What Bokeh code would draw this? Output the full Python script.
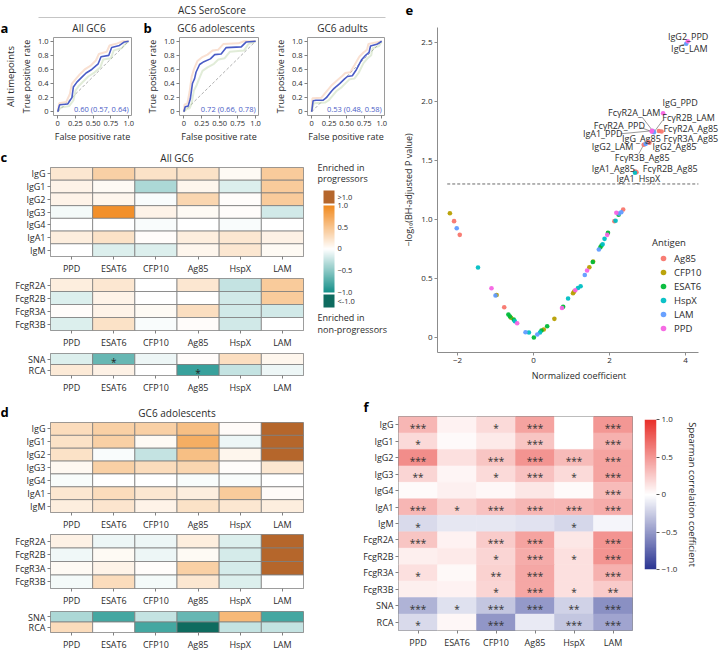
import numpy as np
from bokeh.plotting import figure
from bokeh.layouts import row, column
from bokeh.models import (Range1d, FactorRange, FixedTicker, LinearAxis,
                          ColumnDataSource, LinearColorMapper, Legend, LegendItem)
from bokeh.transform import transform
from bokeh.embed import file_html
from bokeh.resources import INLINE
from bokeh.core.properties import value

FONT = "Open Sans"
TXT = "#2b2b2b"
BLUE = "#4a5cc6"

# ---------------- data ----------------
ANTIGENS = ["PPD", "ESAT6", "CFP10", "Ag85", "HspX", "LAM"]
ROWS_IG = ["IgG", "IgG1", "IgG2", "IgG3", "IgG4", "IgA1", "IgM"]
ROWS_FC = ["FcgR2A", "FcgR2B", "FcgR3A", "FcgR3B"]
ROWS_LEC = ["SNA", "RCA"]

# ROC curves (ACS SeroScore)
A_FPR = [0, 0.02, 0.03, 0.14, 0.20, 0.22, 0.27, 0.33, 0.40, 0.48, 0.57, 0.61, 0.72, 0.76, 0.87, 0.94, 1.0]
A_TPR = [0, 0.08, 0.10, 0.11, 0.20, 0.35, 0.42, 0.48, 0.55, 0.60, 0.68, 0.78, 0.80, 0.91, 0.94, 0.99, 1.0]
A_UP_FPR = [0, 0.02, 0.12, 0.17, 0.20, 0.25, 0.31, 0.38, 0.46, 0.54, 0.58, 0.69, 0.73, 0.84, 0.92, 1.0]
A_UP_TPR = [0, 0.12, 0.14, 0.25, 0.40, 0.46, 0.53, 0.60, 0.65, 0.73, 0.82, 0.85, 0.94, 0.97, 1.0, 1.0]
A_LO_FPR = [0, 0.04, 0.16, 0.22, 0.25, 0.30, 0.36, 0.43, 0.51, 0.60, 0.64, 0.75, 0.79, 0.90, 0.96, 1.0]
A_LO_TPR = [0, 0.06, 0.08, 0.16, 0.30, 0.37, 0.43, 0.50, 0.55, 0.63, 0.74, 0.76, 0.87, 0.90, 0.97, 1.0]
A_AUC = "0.60 (0.57, 0.64)"

B1_FPR = [0, 0.02, 0.06, 0.09, 0.12, 0.15, 0.17, 0.22, 0.28, 0.37, 0.43, 0.52, 0.59, 0.80, 0.87, 1.0]
B1_TPR = [0, 0.07, 0.08, 0.18, 0.40, 0.47, 0.56, 0.67, 0.71, 0.75, 0.81, 0.82, 0.91, 0.92, 0.99, 1.0]
B1_UP_FPR = [0, 0.01, 0.05, 0.08, 0.11, 0.14, 0.19, 0.25, 0.33, 0.40, 0.48, 0.55, 0.76, 0.84, 1.0]
B1_UP_TPR = [0, 0.10, 0.12, 0.28, 0.50, 0.60, 0.72, 0.77, 0.81, 0.87, 0.88, 0.96, 0.97, 1.0, 1.0]
B1_LO_FPR = [0, 0.04, 0.08, 0.11, 0.14, 0.18, 0.21, 0.26, 0.33, 0.42, 0.48, 0.57, 0.64, 0.84, 0.90, 1.0]
B1_LO_TPR = [0, 0.04, 0.05, 0.12, 0.30, 0.38, 0.46, 0.58, 0.63, 0.68, 0.74, 0.76, 0.85, 0.87, 0.96, 1.0]
B1_AUC = "0.72 (0.66, 0.78)"

B2_FPR = [0, 0.02, 0.06, 0.165, 0.21, 0.27, 0.32, 0.40, 0.47, 0.51, 0.58, 0.64, 0.71, 0.77, 0.82, 0.84, 0.93, 1.0]
B2_TPR = [0, 0.156, 0.164, 0.164, 0.20, 0.276, 0.333, 0.40, 0.467, 0.50, 0.51, 0.60, 0.733, 0.80, 0.844, 0.933, 0.956, 1.0]
B2_UP_FPR = [0, 0.01, 0.14, 0.18, 0.24, 0.29, 0.37, 0.44, 0.48, 0.55, 0.61, 0.68, 0.74, 0.79, 0.81, 0.90, 1.0]
B2_UP_TPR = [0, 0.19, 0.20, 0.25, 0.32, 0.38, 0.45, 0.51, 0.55, 0.56, 0.66, 0.78, 0.84, 0.88, 0.96, 0.98, 1.0]
B2_LO_FPR = [0, 0.03, 0.19, 0.24, 0.30, 0.35, 0.43, 0.50, 0.54, 0.61, 0.67, 0.74, 0.80, 0.85, 0.87, 0.96, 1.0]
B2_LO_TPR = [0, 0.12, 0.13, 0.16, 0.23, 0.29, 0.35, 0.42, 0.46, 0.47, 0.55, 0.69, 0.76, 0.80, 0.90, 0.93, 1.0]
B2_AUC = "0.53 (0.48, 0.58)"

CHANCE = [0, 1]
ROC_X_TICKS = [0, 0.25, 0.5, 0.75, 1.0]
ROC_X_LABELS = ["0", "0.25", "0.50", "0.75", "1.0"]
ROC_Y_TICKS = [0, 0.2, 0.4, 0.6, 0.8, 1.0]
ROC_Y_LABELS = ["0", "0.2", "0.4", "0.6", "0.8", "1.0"]

# Panel c (All GC6); values beyond the scale: >1 -> 1.5, <-1 -> -1.5
C_IG = [
    [0.20, 0.40, 0.25, 0.25, 0.05, 0.45],
    [0.10, 0.05, -0.35, 0.08, -0.15, 0.45],
    [0.10, 0.08, -0.02, 0.35, 0.02, 0.45],
    [-0.05, 0.95, 0.10, 0.05, 0.02, -0.20],
    [0.0, 0.0, -0.02, 0.0, -0.02, 0.0],
    [0.15, 0.25, 0.02, 0.15, 0.20, 0.12],
    [0.0, -0.15, -0.15, 0.08, 0.20, 0.05],
]
C_FC = [
    [0.15, 0.20, 0.0, 0.20, -0.25, 0.45],
    [-0.15, 0.10, 0.0, 0.0, -0.20, 0.45],
    [0.02, 0.10, 0.05, 0.28, -0.20, -0.20],
    [-0.15, 0.25, -0.02, 0.02, -0.20, 0.0],
]
C_LEC = [
    [-0.15, -0.65, -0.08, 0.02, 0.28, 0.08],
    [0.18, 0.12, 0.0, -0.85, -0.25, -0.08],
]
C_LEC_STARS = [
    ["", "*", "", "", "", ""],
    ["", "", "", "*", "", ""],
]

# Panel d (GC6 adolescents)
D_IG = [
    [0.30, 0.40, 0.40, 0.55, 0.03, 1.5],
    [0.25, 0.40, 0.05, 0.70, -0.08, 1.5],
    [0.25, -0.02, -0.25, 0.55, 0.08, 1.5],
    [0.06, 0.40, 0.30, 0.35, 0.02, 0.20],
    [-0.03, 0.0, 0.0, -0.03, -0.02, 0.0],
    [0.20, 0.30, 0.20, 0.15, 0.45, 0.03],
    [0.15, 0.22, 0.10, 0.25, 0.20, 0.15],
]
D_FC = [
    [0.12, -0.08, -0.08, 0.15, -0.15, 1.5],
    [-0.06, 0.05, -0.08, 0.05, -0.18, 1.5],
    [0.05, 0.10, 0.02, 0.40, -0.18, 1.5],
    [-0.05, 0.30, -0.05, 0.20, -0.15, 0.0],
]
D_LEC = [
    [-0.35, -0.80, -0.25, -0.65, 0.60, -0.80],
    [0.30, 0.0, -0.80, -1.5, -0.25, -0.25],
]

# Panel e (volcano)
E_ANTIGEN_ORDER = ["Ag85", "CFP10", "ESAT6", "HspX", "LAM", "PPD"]
E_COLORS = ["#F8766D", "#B79F00", "#00BA38", "#00BFC4", "#619CFF", "#F564E3"]
E_ANT = ["CFP10", "Ag85", "LAM", "Ag85", "HspX", "PPD", "LAM", "CFP10", "Ag85", "ESAT6",
         "ESAT6", "CFP10", "ESAT6", "HspX", "PPD", "LAM", "HspX", "ESAT6", "LAM", "HspX",
         "ESAT6", "CFP10", "ESAT6", "CFP10", "PPD", "ESAT6", "HspX", "CFP10", "CFP10", "PPD",
         "HspX", "HspX", "LAM", "PPD", "CFP10", "ESAT6", "CFP10", "LAM", "ESAT6", "ESAT6",
         "HspX", "HspX", "PPD", "ESAT6", "Ag85", "HspX", "PPD", "ESAT6", "LAM", "LAM", "Ag85"]
E_X = [-2.20, -2.09, -2.02, -1.94, -1.46, -1.105, -1.00, -0.97, -0.77, -0.66,
       -0.62, -0.59, -0.52, -0.49, -0.43, -0.21, -0.12, 0.01, 0.10, 0.17,
       0.21, 0.27, 0.36, 0.55, 0.75, 0.78, 0.91, 1.04, 1.07, 1.10,
       1.17, 1.24, 1.35, 1.41, 1.47, 1.56, 1.57, 1.72, 1.76, 1.79,
       1.82, 1.87, 1.94, 1.96, 2.13, 2.16, 2.18, 2.24, 2.25, 2.31, 2.36]
E_Y = [1.053, 0.986, 0.926, 0.870, 0.593, 0.418, 0.356, 0.360, 0.257, 0.195,
       0.178, 0.167, 0.153, 0.138, 0.121, 0.045, 0.042, 0.000, 0.025, 0.042,
       0.059, 0.068, 0.096, 0.158, 0.250, 0.260, 0.330, 0.375, 0.390, 0.400,
       0.420, 0.435, 0.530, 0.568, 0.596, 0.640, 0.644, 0.746, 0.765, 0.780,
       0.790, 0.836, 0.870, 0.887, 0.986, 0.990, 1.057, 1.040, 1.050, 1.062, 1.085]
E_LAB_NAME = ["IgG2_PPD", "IgG_LAM", "IgG_PPD", "FcγR2A_LAM", "FcγR2B_LAM", "FcγR2A_PPD",
              "FcγR2A_Ag85", "IgA1_PPD", "IgG_Ag85", "FcγR3A_Ag85", "IgG2_LAM", "IgG2_Ag85",
              "FcγR3B_Ag85", "IgA1_Ag85", "FcγR2B_Ag85", "IgA1_HspX"]
E_LAB_ANT = ["PPD", "LAM", "PPD", "LAM", "LAM", "PPD", "Ag85", "PPD", "Ag85", "Ag85",
             "LAM", "Ag85", "Ag85", "Ag85", "Ag85", "HspX"]
E_LAB_X = [4.06, 4.02, 3.41, 3.14, 3.17, 3.11, 3.30, 3.12, 3.02, 3.37, 2.95, 3.05, 2.90, 2.68, 2.71, 2.67]
E_LAB_Y = [2.51, 2.49, 1.90, 1.75, 1.74, 1.745, 1.75, 1.752, 1.655, 1.746, 1.64, 1.65, 1.633, 1.407, 1.40, 1.396]
# label placement (text anchors, data units) and alignment
E_TXT_X = [4.07, 4.10, 3.86, 2.65, 4.08, 2.26, 4.86, 1.82, 2.84, 4.86, 2.08, 3.71, 2.86, 2.10, 3.60, 2.76]
E_TXT_Y = [2.55, 2.447, 1.99, 1.904, 1.867, 1.80, 1.77, 1.726, 1.69, 1.69, 1.62, 1.62, 1.523, 1.435, 1.435, 1.35]
E_TXT_ALIGN = ["center", "center", "center", "center", "center", "center", "right", "center",
               "center", "right", "center", "center", "center", "center", "center", "center"]
# leader segments (label edge -> point)
SEG_X0 = [3.82, 2.86, 3.40, 2.82, 2.29, 2.77]
SEG_Y0 = [2.47, 1.867, 1.84, 1.78, 1.726, 1.557]
SEG_X1 = [4.02, 3.14, 3.17, 3.11, 3.12, 2.90]
SEG_Y1 = [2.49, 1.75, 1.74, 1.745, 1.752, 1.633]
E_X_TICKS = [-2, 0, 2, 4]
E_X_LABELS = ["−2", "0", "2", "4"]
E_Y_TICKS = [0, 0.5, 1.0, 1.5, 2.0, 2.5]
E_Y_LABELS = ["0", "0.5", "1.0", "1.5", "2.0", "2.5"]
P_CUTOFF = 0.05

# Panel f (Spearman correlation)
F_ROWS = ["IgG", "IgG1", "IgG2", "IgG3", "IgG4", "IgA1", "IgM",
          "FcgR2A", "FcgR2B", "FcgR3A", "FcgR3B", "SNA", "RCA"]
F_VALS = [
    [0.35, 0.06, 0.18, 0.45, 0.0, 0.50],
    [0.18, 0.02, 0.10, 0.28, 0.0, 0.38],
    [0.55, 0.15, 0.28, 0.52, 0.33, 0.45],
    [0.20, 0.05, 0.18, 0.30, 0.18, 0.45],
    [0.02, 0.07, 0.04, 0.12, 0.02, 0.33],
    [0.35, 0.22, 0.30, 0.35, 0.35, 0.40],
    [-0.18, -0.12, -0.12, -0.14, -0.20, -0.05],
    [0.28, 0.06, 0.25, 0.45, 0.12, 0.52],
    [0.08, 0.10, 0.20, 0.40, 0.15, 0.52],
    [0.15, 0.03, 0.22, 0.42, 0.15, 0.38],
    [0.08, 0.06, 0.20, 0.42, 0.15, 0.25],
    [-0.38, -0.15, -0.28, -0.50, -0.22, -0.55],
    [-0.18, 0.04, -0.52, -0.10, -0.28, -0.45],
]
F_STARS = [
    ["***", "", "*", "***", "", "***"],
    ["*", "", "", "***", "", "***"],
    ["***", "", "***", "***", "***", "***"],
    ["**", "", "*", "***", "*", "***"],
    ["", "", "", "", "", "***"],
    ["***", "*", "***", "***", "***", "***"],
    ["*", "", "", "", "*", ""],
    ["***", "", "***", "***", "", "***"],
    ["", "", "*", "***", "*", "***"],
    ["*", "", "**", "***", "", "***"],
    ["", "", "*", "***", "*", "**"],
    ["***", "*", "***", "***", "**", "***"],
    ["*", "", "***", "", "***", "***"],
]

# colour-key tick labels
CL_TICKS = [1.195, 1.0, 0.5, 0.0, -0.5, -1.0, -1.195]
CL_LABELS = [">1.0", "1.0", "0.5", "0", "−0.5", "−1.0", "<-1.0"]
CB_TICKS = [-1, -0.5, 0, 0.5, 1]
CB_LABELS = ["−1.0", "−0.5", "0", "0.5", "1.0"]


# ---------------- helpers ----------------
def hex2rgb(h):
    h = h.lstrip("#")
    return np.array([int(h[i:i + 2], 16) for i in (0, 2, 4)], dtype=float)


def diverging(lo, hi, n=255):
    a, b, w = hex2rgb(lo), hex2rgb(hi), np.array([255.0, 255.0, 255.0])
    out = []
    for t in np.linspace(-1, 1, n):
        c = w + (a - w) * (-t) if t < 0 else w + (b - w) * t
        out.append("#%02x%02x%02x" % tuple(int(round(v)) for v in c))
    return out


OVER, UNDER = "#B5662B", "#0E6B5F"
C_MAP = LinearColorMapper(palette=diverging("#16918A", "#F18B20"), low=-1, high=1,
                          high_color=OVER, low_color=UNDER)
F_MAP = LinearColorMapper(palette=diverging("#2B3593", "#E8312B"), low=-1, high=1)
GRAD = np.linspace(-1, 1, 256).reshape(256, 1)


def base_fig(w, h, l, r, t, b, **kw):
    p = figure(width=w, height=h, min_border_left=l, min_border_right=r,
               min_border_top=t, min_border_bottom=b, toolbar_location=None,
               output_backend="svg", **kw)
    p.grid.visible = False
    p.outline_line_color = None
    p.background_fill_color = "white"
    p.border_fill_color = "white"
    return p


def style_axis(ax, lab=8, ttl=9, tick="#808080", line=None):
    ax.axis_line_color = line
    ax.major_tick_line_color = tick
    ax.major_tick_in = 0
    ax.major_tick_out = 3
    ax.minor_tick_line_color = None
    ax.major_label_text_font = FONT
    ax.major_label_text_font_size = f"{lab}px"
    ax.major_label_text_color = TXT
    ax.major_label_standoff = 2
    ax.axis_label_text_font = FONT
    ax.axis_label_text_font_size = f"{ttl}px"
    ax.axis_label_text_font_style = "normal"
    ax.axis_label_text_color = TXT
    ax.axis_label_standoff = 3


def strip(w, h, letters, titles):
    """A text-only band: panel letters (bold) and panel titles, in pixel units."""
    p = base_fig(w, h, 0, 0, 0, 0, x_range=Range1d(0, w), y_range=Range1d(h, 0),
                 x_axis_type=None, y_axis_type=None)
    if letters:
        p.text(x=[l[0] for l in letters], y=[l[1] for l in letters], text=[l[2] for l in letters],
               text_align="left", text_baseline="middle", text_font=value(FONT),
               text_font_size="13px", text_font_style="bold", text_color="black")
    if titles:
        p.text(x=[t[0] for t in titles], y=[t[1] for t in titles], text=[t[2] for t in titles],
               text_align="center", text_baseline="middle", text_font=value(FONT),
               text_font_size="10px", text_color=TXT)
    return p


def roc_fig(w, l, r, fx, fy, ux, uy, lx, ly, auc):
    p = base_fig(w, 109, l, r, 1, 28, x_range=Range1d(-0.06, 1.04),
                 y_range=Range1d(-0.053, 1.053))
    p.outline_line_color = "#9a9a9a"
    p.line(CHANCE, CHANCE, line_color="#9a9a9a", line_dash="3 2", line_width=0.8)
    p.line(ux, uy, line_color="#eda77c", line_alpha=0.35, line_width=2.0)
    p.line(lx, ly, line_color="#a8c98f", line_alpha=0.35, line_width=2.0)
    p.line(fx, fy, line_color=BLUE, line_width=1.6)
    p.text(x=[1.0], y=[0.045], text=[auc], text_align="right", text_baseline="middle",
           text_color=BLUE, text_font=value(FONT), text_font_size="7.5px")
    style_axis(p.xaxis, 7.5, 9)
    style_axis(p.yaxis, 7.5, 9)
    p.xaxis.ticker = FixedTicker(ticks=ROC_X_TICKS)
    p.xaxis.major_label_overrides = dict(zip(ROC_X_TICKS, ROC_X_LABELS))
    p.yaxis.ticker = FixedTicker(ticks=ROC_Y_TICKS)
    p.yaxis.major_label_overrides = dict(zip(ROC_Y_TICKS, ROC_Y_LABELS))
    p.xaxis.axis_label = "False positive rate"
    p.yaxis.axis_label = "True positive rate"
    p.xaxis.axis_label_standoff = 1
    p.yaxis.axis_label_standoff = 2
    return p


def heat_fig(rows, vals, h, t, b, stars=None):
    p = base_fig(310, h, 50, 7, t, b, x_range=FactorRange(factors=ANTIGENS),
                 y_range=FactorRange(factors=rows[::-1]))
    xs, ys, vs, ss = [], [], [], []
    for i, rname in enumerate(rows):
        for j, cname in enumerate(ANTIGENS):
            xs.append(cname)
            ys.append(rname)
            vs.append(vals[i][j])
            ss.append(stars[i][j] if stars else "")
    src = ColumnDataSource(dict(x=xs, y=ys, v=vs, s=ss))
    p.rect("x", "y", 1, 1, source=src, fill_color=transform("v", C_MAP),
           line_color="#7d7d7d", line_width=0.8)
    if stars:
        p.text("x", "y", text="s", source=src, text_align="center", text_baseline="middle",
               y_offset=3, text_font=value(FONT), text_font_size="10px", text_color="#222")
    p.outline_line_color = "#7d7d7d"
    p.outline_line_width = 0.8
    style_axis(p.xaxis, 9, 9)
    style_axis(p.yaxis, 9, 9)
    return p


# ---------------- header + ROC (a, b) ----------------
header = base_fig(388, 17, 38, 3, 14, 0, x_range=Range1d(0, 1), y_range=Range1d(0, 1),
                  x_axis_location="above", y_axis_type=None)
style_axis(header.xaxis, 8, 10, tick=None, line="#8a8a8a")
header.xaxis.ticker = FixedTicker(ticks=[])
header.xaxis.major_tick_out = 0
header.xaxis.major_label_standoff = 0
header.xaxis.axis_label = "ACS SeroScore"
header.xaxis.axis_label_standoff = 1

roc_strip = strip(388, 19, [(0, 10, "a"), (143, 10, "b")],
                  [(88.5, 10, "All GC6"), (215.5, 10, "GC6 adolescents"), (342, 10, "GC6 adults")])

pa = roc_fig(142, 46, 11, A_FPR, A_TPR, A_UP_FPR, A_UP_TPR, A_LO_FPR, A_LO_TPR, A_AUC)
ax2 = LinearAxis(ticker=FixedTicker(ticks=[]), axis_label="All timepoints")
style_axis(ax2, 8, 9.5, tick=None)
ax2.major_tick_out = 0
ax2.major_label_standoff = 0
ax2.axis_label_standoff = 0
pa.add_layout(ax2, "left")
pb1 = roc_fig(128, 31, 12, B1_FPR, B1_TPR, B1_UP_FPR, B1_UP_TPR, B1_LO_FPR, B1_LO_TPR, B1_AUC)
pb2 = roc_fig(118, 30, 4, B2_FPR, B2_TPR, B2_UP_FPR, B2_UP_TPR, B2_LO_FPR, B2_LO_TPR, B2_AUC)

# ---------------- panel c ----------------
c_strip = strip(310, 21, [(0, 11.5, "c")], [(176.5, 12, "All GC6")])
c1 = heat_fig(ROWS_IG, C_IG, 111, 1, 21)
c2 = heat_fig(ROWS_FC, C_FC, 75, 1, 22)
c3 = heat_fig(ROWS_LEC, C_LEC, 44, 1, 17, stars=C_LEC_STARS)

# colour key for c/d: value axis in y, pixels in x
cl = base_fig(78, 251, 0, 0, 0, 0, x_range=Range1d(0, 78), y_range=Range1d(-3.391, 2.379),
              x_axis_type=None, y_axis_type=None)
cl.image(image=[GRAD], x=13, y=-1, dw=11, dh=2, color_mapper=C_MAP)
cl.rect(x=[18.5, 18.5], y=[1.195, -1.195], width=11, height=0.299,
        fill_color=[OVER, UNDER], line_color=None)
cl.text(x=[27] * len(CL_TICKS), y=CL_TICKS, text=CL_LABELS, text_align="left",
        text_baseline="middle", text_font=value(FONT), text_font_size="7.5px", text_color=TXT)
cl.text(x=[7, 7, 7, 7], y=[1.874, 1.621, -1.575, -1.851],
        text=["Enriched in", "progressors", "Enriched in", "non-progressors"],
        text_align="left", text_baseline="middle", text_font=value(FONT),
        text_font_size="9px", text_color=TXT)

# ---------------- panel e ----------------
e_strip = strip(332, 26, [(17, 9.5, "e")], [])
pe = base_fig(332, 370, 49, 0, 1, 44, x_range=Range1d(-2.526, 4.921), y_range=Range1d(-0.127, 2.627))
style_axis(pe.xaxis, 8, 9, tick="#8c8c8c", line="#8c8c8c")
style_axis(pe.yaxis, 8, 9, tick="#8c8c8c", line="#8c8c8c")
pe.xaxis.bounds = (-2.526, 4.34)
pe.xaxis.ticker = FixedTicker(ticks=E_X_TICKS)
pe.xaxis.major_label_overrides = dict(zip(E_X_TICKS, E_X_LABELS))
pe.yaxis.ticker = FixedTicker(ticks=E_Y_TICKS)
pe.yaxis.major_label_overrides = dict(zip(E_Y_TICKS, E_Y_LABELS))
pe.xaxis.axis_label = "Normalized coefficient"
pe.yaxis.axis_label = "−log₁₀(BH-adjusted P value)"
thr = -np.log10(P_CUTOFF)
pe.segment(x0=[-2.27], y0=[thr], x1=[4.34], y1=[thr], line_color="#444", line_dash="3 2", line_width=0.8)
pe.segment(x0=SEG_X0, y0=SEG_Y0, x1=SEG_X1, y1=SEG_Y1, line_color="#555", line_width=0.6)
items = []
for ag, col in zip(E_ANTIGEN_ORDER, E_COLORS):
    xs = [x for x, a in zip(E_X, E_ANT) if a == ag] + [x for x, a in zip(E_LAB_X, E_LAB_ANT) if a == ag]
    ys = [y for y, a in zip(E_Y, E_ANT) if a == ag] + [y for y, a in zip(E_LAB_Y, E_LAB_ANT) if a == ag]
    r = pe.scatter(xs, ys, size=4.6, fill_color=col, line_color=None, fill_alpha=0.95)
    items.append(LegendItem(label=ag, renderers=[r]))
for al in ("center", "right"):
    idx = [i for i, a in enumerate(E_TXT_ALIGN) if a == al]
    pe.text(x=[E_TXT_X[i] for i in idx], y=[E_TXT_Y[i] for i in idx],
            text=[E_LAB_NAME[i] for i in idx], text_align=al, text_baseline="middle",
            text_font=value(FONT), text_font_size="9px", text_color=TXT)
leg = Legend(items=items, title="Antigen", location=(215, 17))
leg.title_text_font = FONT
leg.title_text_font_size = "9.5px"
leg.title_text_font_style = "normal"
leg.title_text_color = TXT
leg.title_standoff = 2
leg.label_text_font = FONT
leg.label_text_font_size = "9.5px"
leg.label_text_color = TXT
leg.glyph_width = 22
leg.glyph_height = 14
leg.label_height = 14
leg.label_standoff = 0
leg.spacing = 0
leg.padding = 0
leg.margin = 0
leg.border_line_color = None
leg.background_fill_alpha = 0
pe.add_layout(leg)

# ---------------- panel d ----------------
d_strip = strip(310, 25, [(0, 15.5, "d")], [(176.5, 16, "GC6 adolescents")])
d1 = heat_fig(ROWS_IG, D_IG, 112, 1, 20)
d2 = heat_fig(ROWS_FC, D_FC, 77, 1, 22)
d3 = heat_fig(ROWS_LEC, D_LEC, 43, 1, 16)

# ---------------- panel f ----------------
f_strip = strip(326, 19, [(53, 10, "f")], [])
pf = base_fig(326, 238, 88, 4, 1, 23, x_range=FactorRange(factors=ANTIGENS),
              y_range=FactorRange(factors=F_ROWS[::-1]))
fx, fy, fv, fs = [], [], [], []
for i, rname in enumerate(F_ROWS):
    for j, cname in enumerate(ANTIGENS):
        fx.append(cname)
        fy.append(rname)
        fv.append(F_VALS[i][j])
        fs.append(F_STARS[i][j])
fsrc = ColumnDataSource(dict(x=fx, y=fy, v=fv, s=fs))
pf.rect("x", "y", 1, 1, source=fsrc, fill_color=transform("v", F_MAP),
        line_color=transform("v", F_MAP), line_width=0.5)
pf.text("x", "y", text="s", source=fsrc, text_align="center", text_baseline="middle", y_offset=3,
        text_font=value(FONT), text_font_size="10px", text_color="#333")
pf.outline_line_color = "#8a8a8a"
style_axis(pf.xaxis, 9, 9)
style_axis(pf.yaxis, 9, 9)

pcb = base_fig(84, 257, 8, 64, 23, 84, x_range=Range1d(0, 1), y_range=Range1d(-1, 1),
               x_axis_type=None, y_axis_location="right")
pcb.image(image=[GRAD], x=0, y=-1, dw=1, dh=2, color_mapper=F_MAP)
style_axis(pcb.yaxis, 8, 9.5, tick="#555")
pcb.yaxis.ticker = FixedTicker(ticks=CB_TICKS)
pcb.yaxis.major_label_overrides = dict(zip(CB_TICKS, CB_LABELS))
pcb.yaxis.axis_label = "Spearman correlation coefficient"
pcb.yaxis.axis_label_standoff = 6

# ---------------- layout ----------------
top_left = column(header, row(roc_strip), row(pa, pb1, pb2),
                  row(column(row(c_strip), c1, c2, c3), cl))
top = row(top_left, column(row(e_strip), pe))
bottom = row(column(row(d_strip), d1, d2, d3), column(row(f_strip), pf), column(pcb))
layout = column(top, bottom)

open("out.html", "w").write(file_html(layout, INLINE, title="ACS SeroScore"))
